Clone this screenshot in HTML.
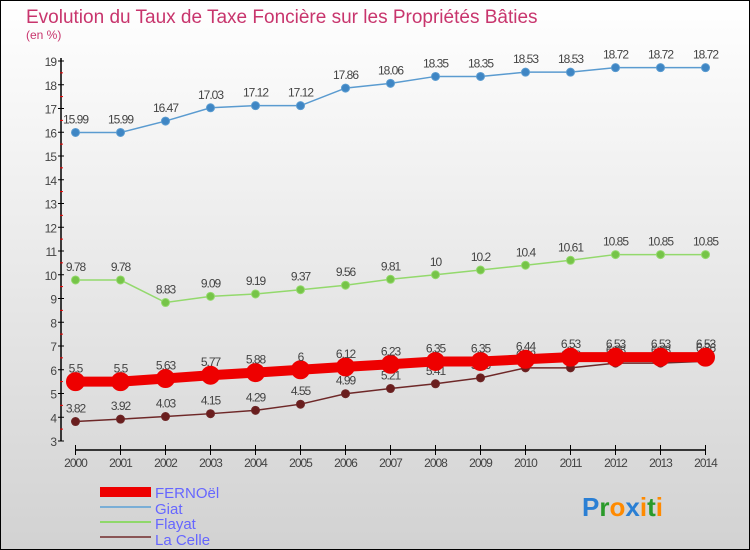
<!DOCTYPE html>
<html><head><meta charset="utf-8"><style>
html,body{margin:0;padding:0}
body{width:750px;height:550px;overflow:hidden;font-family:"Liberation Sans",sans-serif}
svg{display:block}
</style></head><body>
<svg width="750" height="550">
<defs><linearGradient id="bg" x1="0" y1="0" x2="0" y2="1"><stop offset="0" stop-color="#ffffff"/><stop offset="1" stop-color="#d2d2d2"/></linearGradient></defs>
<rect x="0.5" y="0.5" width="749" height="549" fill="url(#bg)" stroke="#000"/>
<text x="26" y="23" font-size="19" fill="#c8356d">Evolution du Taux de Taxe Foncière sur les Propriétés Bâties</text>
<text x="26" y="39" font-size="12" fill="#c8356d">(en %)</text>
<g id="axes"></g><g id="series"></g>
<g>
<rect x="100" y="487" width="51" height="10" fill="#ee0000"/>
<text x="155" y="498" font-size="15" fill="#6666ff">FERNOël</text>
<rect x="100" y="506" width="51" height="2" fill="#7aaed6"/>
<text x="155" y="514" font-size="15" fill="#6666ff">Giat</text>
<rect x="100" y="521" width="51" height="2" fill="#8fd86a"/>
<text x="155" y="529" font-size="15" fill="#6666ff">Flayat</text>
<rect x="100" y="536" width="51" height="2" fill="#8a5555"/>
<text x="155" y="545" font-size="15" fill="#6666ff">La Celle</text>
</g>
<text x="582" y="516" font-size="26" font-weight="bold"><tspan fill="#2a7fd4">P</tspan><tspan fill="#2a9a2a">r</tspan><tspan fill="#ff8a00">o</tspan><tspan fill="#2a7fd4">x</tspan><tspan fill="#ff8a00">i</tspan><tspan fill="#2a9a2a">t</tspan><tspan fill="#ff8a00">i</tspan></text>
</svg>
<script>
const years=[2000,2001,2002,2003,2004,2005,2006,2007,2008,2009,2010,2011,2012,2013,2014];
const yTicks=[3,4,5,6,7,8,9,10,11,12,13,14,15,16,17,18,19];
const fernoel=[5.5,5.5,5.63,5.77,5.88,6,6.12,6.23,6.35,6.35,6.44,6.53,6.53,6.53,6.53];
const giat=[15.99,15.99,16.47,17.03,17.12,17.12,17.86,18.06,18.35,18.35,18.53,18.53,18.72,18.72,18.72];
const flayat=[9.78,9.78,8.83,9.09,9.19,9.37,9.56,9.81,10,10.2,10.4,10.61,10.85,10.85,10.85];
const laCelle=[3.82,3.92,4.03,4.15,4.29,4.55,4.99,5.21,5.41,5.66,6.08,6.08,6.28,6.28,6.36];
const NS="http://www.w3.org/2000/svg";
const xs=i=>75.5+i*(705.5-75.5)/(years.length-1);
const ys=v=>441-(v-3)*(441-61)/16;
function el(t,a,p){const e=document.createElementNS(NS,t);for(const k in a)e.setAttribute(k,a[k]);p.appendChild(e);return e;}
const ax=document.getElementById('axes');
let l=el('line',{x1:61,y1:58,x2:61,y2:441,stroke:'#000','stroke-width':1.5},ax);


l=el('line',{x1:75,y1:450,x2:706,y2:450,stroke:'#000','stroke-width':1.5},ax);


yTicks.forEach(v=>{const y=ys(v);
 el('line',{x1:58,y1:y,x2:64,y2:y,stroke:'#000'},ax);
 if(v<19)el('line',{x1:60,y1:y-11.9,x2:63,y2:y-11.9,stroke:'#e00'},ax);
 const t=el('text',{x:56,y:y+5,'font-size':12,fill:'#444','text-anchor':'end','letter-spacing':'-1'},ax);t.textContent=v;
 
 });
years.forEach((yr,i)=>{const x=xs(i);
 el('line',{x1:x,y1:445,x2:x,y2:455,stroke:'#000'},ax);
 const t=el('text',{x:x,y:467,'font-size':12,fill:'#444','text-anchor':'middle','letter-spacing':'-1'},ax);t.textContent=yr;
 
 });
const sg=document.getElementById('series');
function draw(vals,color,w,r,mk,name){
 const g=el('g',{},sg);
 
 
 el('polyline',{points:vals.map((v,i)=>xs(i)+','+ys(v)).join(' '),fill:'none',stroke:color,'stroke-width':w},g);
 vals.forEach((v,i)=>{const c=el('circle',{cx:xs(i),cy:ys(v),r:r,fill:mk,stroke:color,'stroke-width':1},g);
  
  
  const t=el('text',{x:xs(i),y:ys(v)-9,'font-size':12,fill:'#444','text-anchor':'middle','letter-spacing':'-1'},g);t.textContent=v;
  
  });
}
draw(giat,'#5a9bd0',1.5,4,'#3f86c4','series-giat');
draw(flayat,'#93d96c',1.5,4,'#76c448','series-flayat');
draw(laCelle,'#6e2828',1.5,4,'#6a1e1e','series-la-celle');
draw(fernoel,'#ee0000',10,9,'#ee0000','series-fernoel');
</script>
</body></html>
